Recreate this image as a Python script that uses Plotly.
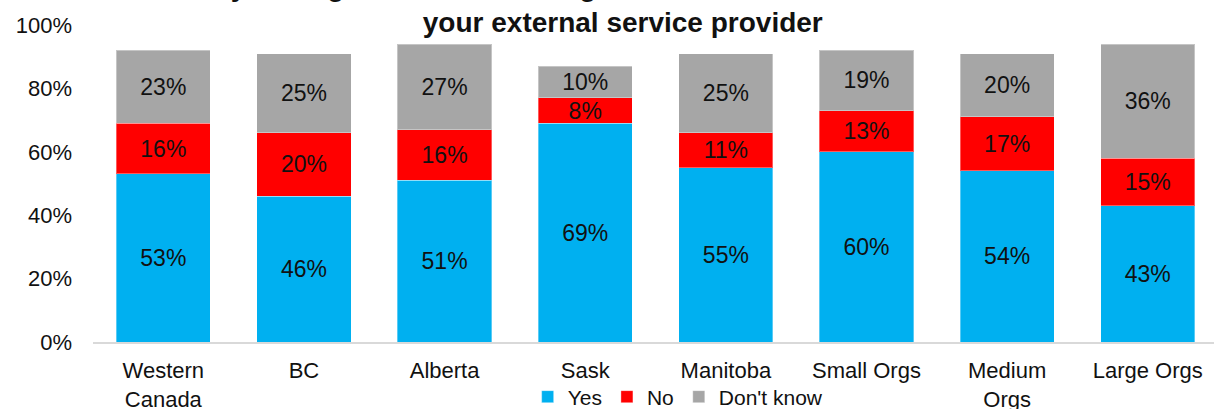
import plotly.graph_objects as go

categories = ["Western<br>Canada", "BC", "Alberta", "Sask", "Manitoba",
              "Small Orgs", "Medium<br>Orgs", "Large Orgs"]
yes_vals = [53, 46, 51, 69, 55, 60, 54, 43]
no_vals = [16, 20, 16, 8, 11, 13, 17, 15]
dont_know_vals = [23, 25, 27, 10, 25, 19, 20, 36]
y_tick_vals = [0, 20, 40, 60, 80, 100]
y_tick_text = ["0%", "20%", "40%", "60%", "80%", "100%"]

title_text = ("Is your organization receiving sufficient threat information from"
              "<br>your external service provider")

series = [
    ("Yes", yes_vals, "#00B0F0"),
    ("No", no_vals, "#FF0000"),
    ("Don't know", dont_know_vals, "#A6A6A6"),
]

FONT = "Liberation Sans, Arial, sans-serif"
INK = "#111111"

fig = go.Figure()
for name, vals, color in series:
    fig.add_trace(go.Bar(
        name=name,
        x=categories,
        y=vals,
        width=0.67,
        marker=dict(color=color, line=dict(color="rgba(255,255,255,0.35)", width=1)),
        text=[f"{v}%" for v in vals],
        textposition="inside",
        insidetextanchor="middle",
        textangle=0,
        textfont=dict(family=FONT, size=23, color=INK),
        hoverinfo="skip",
    ))

fig.update_layout(
    barmode="stack",
    width=1214,
    height=409,
    margin=dict(l=93, r=0, t=25, b=67, autoexpand=False),
    paper_bgcolor="white",
    plot_bgcolor="white",
    font=dict(family=FONT, size=22, color=INK),
    uniformtext=dict(minsize=23, mode="show"),
    title=dict(
        text=title_text,
        font=dict(family=FONT, size=28, color=INK, weight="bold"),
        x=0.513,
        xanchor="center",
        xref="container",
        yref="container",
        y=1,
        yanchor="bottom",
        pad=dict(b=4),
    ),
    showlegend=True,
    legend=dict(
        orientation="h",
        traceorder="normal",
        x=0.522,
        xanchor="center",
        xref="paper",
        yref="container",
        y=12 / 409,
        yanchor="middle",
        font=dict(family=FONT, size=21, color=INK),
        itemwidth=30,
        tracegroupgap=0,
        bgcolor="rgba(0,0,0,0)",
    ),
    xaxis=dict(
        range=[-0.5, 7.471],
        showline=True,
        linecolor="#D9D9D9",
        linewidth=2,
        ticks="",
        showgrid=False,
        automargin=False,
        ticklabelstandoff=8,
        tickfont=dict(family=FONT, size=22, color=INK),
        fixedrange=True,
    ),
    yaxis=dict(
        range=[0, 100],
        tickvals=y_tick_vals,
        ticktext=y_tick_text,
        showgrid=False,
        showline=False,
        zeroline=False,
        ticks="",
        automargin=False,
        ticklabelstandoff=20,
        tickfont=dict(family=FONT, size=22, color=INK),
        fixedrange=True,
    ),
)

fig.write_html("out.html")
